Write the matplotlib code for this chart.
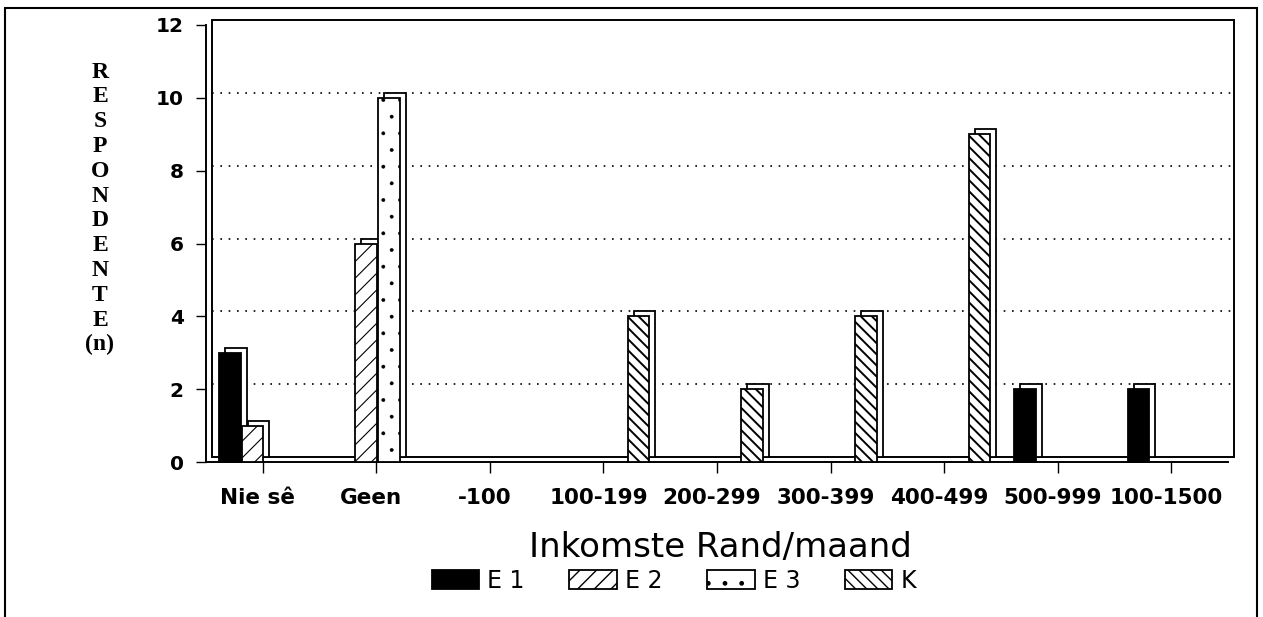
import numpy as np
import matplotlib
matplotlib.use("Agg")
import matplotlib.pyplot as plt
from matplotlib.patches import Rectangle
from matplotlib.transforms import offset_copy, ScaledTranslation

categories = ["Nie sê", "Geen", "-100", "100-199", "200-299",
              "300-399", "400-499", "500-999", "100-1500"]
series = ["E 1", "E 2", "E 3", "K"]
e1 = [3, 0, 0, 0, 0, 0, 0, 2, 2]
e2 = [1, 6, 0, 0, 0, 0, 0, 0, 0]
e3 = [0, 10, 0, 0, 0, 0, 0, 0, 0]
k = [0, 0, 0, 4, 2, 4, 9, 0, 0]
yticks = [0, 2, 4, 6, 8, 10, 12]

faces = ["black", "white", "white", "white"]
hatches = [None, "//", ".", "\\\\\\"]
hatch_lw = [1.0, 0.8, 0.3, 1.4]

sans = ["DejaVu Sans"]

fig = plt.figure(figsize=(12.63, 6.17), dpi=100)
W, H = 1263, 617
ax = fig.add_axes([206 / W, 1 - 462 / H, 1022 / W, 437 / H])
ax.set_xlim(-0.5, 8.5)
ax.set_ylim(0, 12)

# depth offset for the pseudo-3D look
off = offset_copy(ax.transData, fig=fig, x=6, y=5, units="dots")

# back wall with dotted grid
ax.add_patch(Rectangle((-0.5, 0), 9, 12, transform=off, facecolor="white",
                       edgecolor="black", lw=1.4, zorder=0, clip_on=False))
for yv in yticks[1:-1]:
    ax.plot([-0.5, 8.5], [yv, yv], transform=off, ls=(0, (1, 4)),
            color="black", lw=1.2, zorder=0.5, clip_on=False)

x = np.arange(len(categories))
width = 0.2
data = [e1, e2, e3, k]
handles = []
for i, vals in enumerate(data):
    vals = np.array(vals, dtype=float)
    pos = x + (i - 1.5) * width + 0.01
    m = vals > 0
    ax.bar(pos[m], vals[m], width * 0.95, transform=off, facecolor="white",
           edgecolor="black", lw=1.3, zorder=2 + i * 0.1, clip_on=False)
    with matplotlib.rc_context({"hatch.linewidth": hatch_lw[i]}):
        b = ax.bar(pos[m], vals[m], width * 0.95, facecolor=faces[i],
                   edgecolor="black", hatch=hatches[i], lw=1.3,
                   zorder=3 + i * 0.1, clip_on=False, label=series[i])
    handles.append(b)

ax.spines["top"].set_visible(False)
ax.spines["right"].set_visible(False)
ax.spines["left"].set_linewidth(1.4)
ax.spines["bottom"].set_linewidth(1.4)

ax.set_yticks(yticks)
ax.set_yticklabels([str(t) for t in yticks], fontsize=14.5, fontweight="bold",
                   family=sans)
ax.tick_params(axis="y", direction="out", length=7, width=1, pad=9)
ax.set_xticks(x)
ax.set_xticklabels(categories, fontsize=15.5, fontweight="bold", family=sans)
ax.tick_params(axis="x", direction="out", length=8, width=1, pad=11)
shift = ScaledTranslation(-5 / 100, 0, fig.dpi_scale_trans)
for lab in ax.get_xticklabels():
    lab.set_transform(lab.get_transform() + shift)

fig.text(720 / W, 1 - 548 / H, "Inkomste Rand/maand", fontsize=24.5,
         family=sans, ha="center", va="center")

letters = list("RESPONDENTE") + ["(n)"]
for j, ch in enumerate(letters):
    fig.text(100 / W, 1 - (72 + j * 24.8) / H, ch, fontsize=17,
             fontweight="bold", family=["Liberation Serif", "DejaVu Serif"],
             ha="center", va="center")

fig.legend(handles=handles, labels=series, loc="center",
           bbox_to_anchor=(674 / W, 1 - 581 / H), ncol=4, frameon=False,
           prop={"family": sans, "size": 17}, handlelength=2.0,
           handleheight=0.85, handletextpad=0.35, columnspacing=1.9)

fig.add_artist(Rectangle((5 / W, -0.02), 1252 / W, 1 - 8 / H + 0.02,
                         transform=fig.transFigure, fill=False,
                         edgecolor="black", lw=1.5))

fig.savefig("out.png", dpi=100)
